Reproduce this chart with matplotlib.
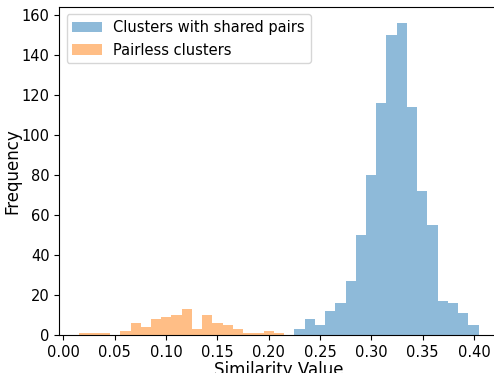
import numpy as np
import matplotlib
matplotlib.use('Agg')
import matplotlib.pyplot as plt

# bin edges and counts
shared_edges = np.linspace(0.225, 0.4045, 19)
shared_counts = [3, 8, 5, 12, 16, 27, 50, 80, 116, 150, 156, 114, 72, 55, 17, 16, 11, 5]

pairless_edges = np.linspace(0.0154, 0.2151, 21)
pairless_counts = [1, 1, 1, 0, 2, 6, 4, 8, 9, 10, 13, 3, 10, 6, 5, 3, 1, 1, 2, 1]

shared_centers = (shared_edges[:-1] + shared_edges[1:]) / 2
pairless_centers = (pairless_edges[:-1] + pairless_edges[1:]) / 2

fig = plt.figure(figsize=(4.94, 3.73), dpi=100)
# axes run slightly past the right edge, as in the cropped original
ax = fig.add_axes([0.120, 0.102, 0.889, 0.879])

ax.hist(shared_centers, bins=shared_edges, weights=shared_counts,
        alpha=0.5, label='Clusters with shared pairs')
ax.hist(pairless_centers, bins=pairless_edges, weights=pairless_counts,
        alpha=0.5, label='Pairless clusters')
ax.set_xlim(-0.0041, 0.4239)

ax.set_xlabel('Similarity Value', fontsize=12, labelpad=1)
ax.set_ylabel('Frequency', fontsize=12, labelpad=0)
ax.tick_params(labelsize=10.5)
ax.legend(loc='upper left', fontsize=10.5)

fig.savefig('out.png', dpi=100)
